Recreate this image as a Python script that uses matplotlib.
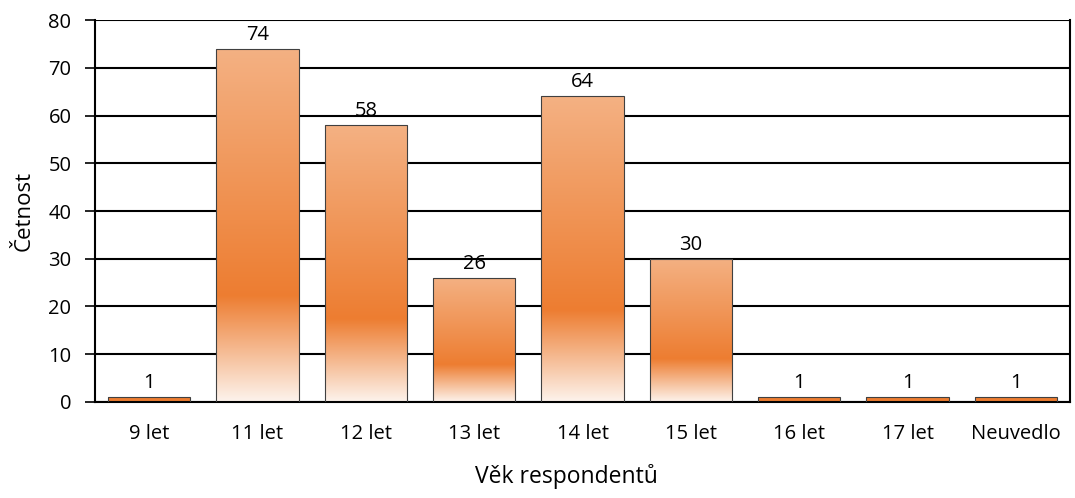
import numpy as np
import matplotlib.pyplot as plt
from matplotlib.colors import LinearSegmentedColormap
from matplotlib.patches import Rectangle

plt.rcParams['font.family'] = ['Open Sans', 'DejaVu Sans']

# data
kategorie = ['9 let', '11 let', '12 let', '13 let', '14 let', '15 let', '16 let', '17 let', 'Neuvedlo']
cetnost = [1, 74, 58, 26, 64, 30, 1, 1, 1]

# přechod barvy: dole skoro bílá, ve 30 % sytá oranžová, nahoře světlá
cmap = LinearSegmentedColormap.from_list(
    'oranz', [(0.0, '#fdf3ec'), (0.3, '#ed7d31'), (1.0, '#f4b183')])

fig = plt.figure(figsize=(10.75, 4.98), dpi=100)
ax = fig.add_axes([0.0884, 0.1928, 0.9070, 0.767])

x = np.arange(len(kategorie))
sirka = 0.76
bars = ax.bar(x, cetnost, width=sirka, color='none', edgecolor='#404040',
              linewidth=0.8, zorder=3)

grad = np.linspace(0, 1, 256).reshape(-1, 1)
for b, v in zip(bars, cetnost):
    x0 = b.get_x()
    if v < 3:
        # tenké sloupce jsou jen oranžové
        ax.add_patch(Rectangle((x0, 0), sirka, v, facecolor='#ed7d31', zorder=2))
    else:
        im = ax.imshow(grad, cmap=cmap, aspect='auto', origin='lower',
                       extent=[x0, x0 + sirka, 0, v], zorder=2, interpolation='bilinear')
        im.set_clip_path(b)
    ax.annotate(str(v), (x0 + sirka / 2, v), xytext=(0, 3), textcoords='offset points',
                ha='center', va='bottom', fontsize=14.5, zorder=4)

ax.set_xlim(-0.5, len(kategorie) - 0.5)
ax.set_ylim(0, 80)
ax.set_yticks(range(0, 81, 10))
ax.set_xticks(x)
ax.set_xticklabels(kategorie, fontsize=14.5)
ax.tick_params(axis='y', labelsize=14.5, length=7, width=1.2, direction='out', pad=10)
ax.tick_params(axis='x', length=0, pad=16)
ax.grid(axis='y', color='black', linewidth=1.5, zorder=0)
ax.set_axisbelow(True)
ax.spines['top'].set_visible(False)
for s in ['left', 'right', 'bottom']:
    ax.spines[s].set_linewidth(1.5)

ax.set_ylabel('Četnost', fontsize=16, labelpad=10)
ax.set_xlabel('Věk respondentů', fontsize=16.5)
ax.xaxis.set_label_coords(0.483, -0.163)

fig.savefig('out.png', dpi=100)
